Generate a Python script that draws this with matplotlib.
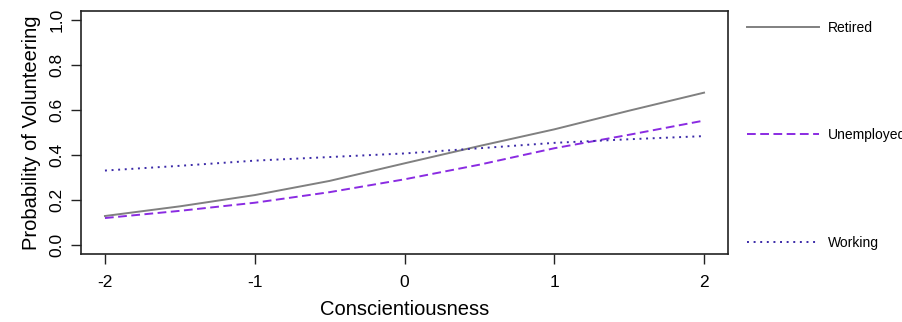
import matplotlib.pyplot as plt
import numpy as np

plt.rcParams['font.family'] = ['Liberation Sans', 'DejaVu Sans']

# values
consc = [-2.0, -1.5, -1.0, -0.5, 0.0, 0.5, 1.0, 1.5, 2.0]
retired = [0.129, 0.172, 0.222, 0.285, 0.363, 0.440, 0.514, 0.597, 0.677]
unemployed = [0.120, 0.152, 0.188, 0.235, 0.292, 0.357, 0.430, 0.490, 0.553]
working = [0.331, 0.352, 0.375, 0.391, 0.407, 0.430, 0.454, 0.470, 0.484]

xticks = [-2, -1, 0, 1, 2]
yticks = [0.0, 0.2, 0.4, 0.6, 0.8, 1.0]

fig = plt.figure(figsize=(9.02, 3.22), dpi=100)
ax = fig.add_axes([0.0898, 0.211, 0.7173, 0.755])

ax.plot(consc, retired, color='#808080', lw=1.4, ls='-', label='Retired')
ax.plot(consc, unemployed, color='#8a2be2', lw=1.4, ls=(0, (4.5, 2.3)), label='Unemployed')
ax.plot(consc, working, color='#3b2aa8', lw=1.4, ls=(0, (1, 2.4)), label='Working')

ax.set_xlim(-2.16, 2.16)
ax.set_ylim(-0.04, 1.04)
ax.set_xticks(xticks)
ax.set_xticklabels([str(t) for t in xticks], fontsize=12.5)
ax.set_yticks(yticks)
ax.set_yticklabels([f'{t:.1f}' for t in yticks], fontsize=12.5, rotation=90, va='center')
ax.tick_params(axis='x', direction='out', length=7, width=1, pad=8, color='#222222')
ax.tick_params(axis='y', direction='out', length=7, width=1, pad=5, color='#222222')
for s in ax.spines.values():
    s.set_linewidth(1.2)
    s.set_color('#222222')

ax.set_xlabel('Conscientiousness', fontsize=14.5, labelpad=7)
ax.set_ylabel('Probability of Volunteering', fontsize=14.5, labelpad=6)

# legend sits outside the box on the right, like the R original
leg = ax.legend(loc='upper left', bbox_to_anchor=(0.828, 0.935), bbox_transform=fig.transFigure,
                frameon=False, fontsize=10, handlelength=5.2, handletextpad=0.65,
                labelspacing=6.72, borderpad=0, borderaxespad=0)

fig.savefig('out.png', dpi=100)
